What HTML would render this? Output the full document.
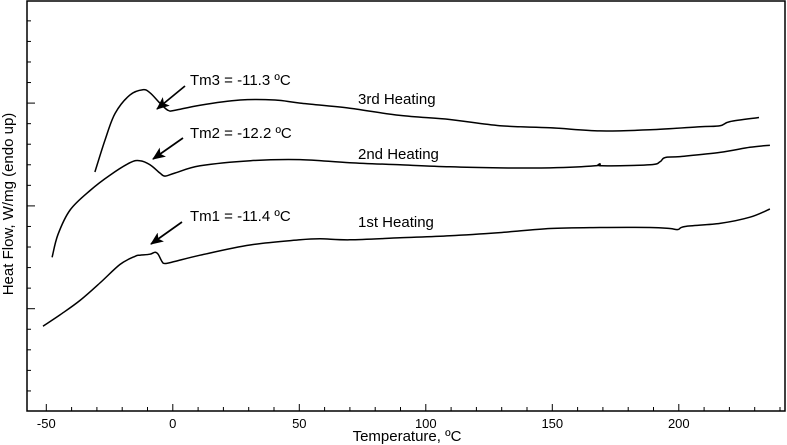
<!DOCTYPE html>
<html><head><meta charset="utf-8"><style>
body{margin:0;background:#fff}
svg{display:block;font-family:"Liberation Sans",sans-serif}
</style></head><body>
<svg id="chart" width="787" height="445">
<rect x="27" y="1" width="758" height="410" fill="none" stroke="#000" stroke-width="1.5"/>
<g id="ticks"></g>
<g id="series"></g>
<text x="407" y="441" font-size="15" text-anchor="middle">Temperature, ºC</text>
<text transform="translate(13,204) rotate(-90)" font-size="15" text-anchor="middle">Heat Flow, W/mg (endo up)</text>
<defs><marker id="ah" markerWidth="13" markerHeight="11" refX="12" refY="5.5" orient="auto" markerUnits="userSpaceOnUse"><path d="M0,0 L13,5.5 L0,11 L3,5.5 Z" fill="#000"/></marker></defs>
<line x1="185" y1="86" x2="157" y2="109" stroke="#000" stroke-width="1.7" marker-end="url(#ah)"/>
<text x="190" y="85" font-size="15">Tm3 = -11.3 ºC</text>
<line x1="183" y1="138" x2="153" y2="159" stroke="#000" stroke-width="1.7" marker-end="url(#ah)"/>
<text x="190" y="138" font-size="15">Tm2 = -12.2 ºC</text>
<line x1="182" y1="222" x2="151" y2="244" stroke="#000" stroke-width="1.7" marker-end="url(#ah)"/>
<text x="190" y="221" font-size="15">Tm1 = -11.4 ºC</text>
<text x="358" y="104" font-size="15">3rd Heating</text>
<text x="358" y="159" font-size="15">2nd Heating</text>
<text x="358" y="227" font-size="15">1st Heating</text>
</svg>
<script>
const xTicks=[-50,0,50,100,150,200];
const t3=[-30.8,-26.8,-22.8,-16.9,-11.8,-9.0,-5.1,-1.9,0.9,10.8,26.6,40.4,50.3,70.0,89.8,109.5,129.3,149.1,168.8,188.6,208.4,216.3,220.2,231.7];
const v3=[2.33,2.64,2.90,3.08,3.13,3.10,3.00,2.93,2.93,2.98,3.03,3.03,3.00,2.95,2.88,2.84,2.78,2.76,2.73,2.74,2.77,2.78,2.82,2.86];
const t2=[-47.7,-45.4,-40.6,-32.7,-24.8,-16.9,-13.0,-9.0,-5.1,-3.1,0.9,10.8,30.7,50.3,70.0,89.8,109.5,129.3,149.1,166.9,168.8,169.6,188.6,192.6,194.5,200.5,216.3,228.1,236.0];
const v2=[1.50,1.72,1.96,2.15,2.30,2.42,2.44,2.40,2.32,2.29,2.32,2.39,2.44,2.45,2.42,2.40,2.38,2.37,2.37,2.39,2.41,2.39,2.40,2.43,2.47,2.48,2.52,2.57,2.59];
const t1=[-51.3,-44.6,-36.7,-28.8,-20.9,-14.9,-13.0,-9.0,-7.0,-5.8,-4.3,-3.1,0.9,10.8,30.5,50.3,58.2,70.0,89.8,109.5,129.3,149.1,168.8,188.6,196.5,199.7,202.5,216.3,228.1,236.0];
const v1=[0.83,0.94,1.08,1.25,1.43,1.51,1.52,1.53,1.55,1.53,1.46,1.44,1.46,1.52,1.62,1.67,1.68,1.67,1.69,1.71,1.74,1.78,1.79,1.79,1.78,1.77,1.80,1.83,1.89,1.97];
const NS="http://www.w3.org/2000/svg";
const xs=t=>172.8+2.53*t;
const ys=v=>411.5-102.8*v;
const tg=document.getElementById('ticks');
function ln(x1,y1,x2,y2,name){const l=document.createElementNS(NS,'line');
l.setAttribute('x1',x1);l.setAttribute('y1',y1);l.setAttribute('x2',x2);l.setAttribute('y2',y2);
l.setAttribute('stroke','#000');l.setAttribute('stroke-width','1');


tg.appendChild(l);}
for(let t=-50;t<=240;t+=10){const maj=xTicks.includes(t);ln(xs(t),411,xs(t),maj?404:407,maj?'x-major-tick':'x-minor-tick');}
for(let i=1;i<20;i++){const y=411.5-20.56*i;const maj=i%5==0;ln(27,y,maj?35:31,y,maj?'y-major-tick':'y-minor-tick');}
xTicks.forEach(t=>{const tx=document.createElementNS(NS,'text');tx.setAttribute('x',xs(t));tx.setAttribute('y',428);
tx.setAttribute('font-size','13');tx.setAttribute('text-anchor','middle');tx.textContent=t;


tg.appendChild(tx);});
function smooth(P){let d='M'+P[0][0].toFixed(1)+','+P[0][1].toFixed(1);
for(let i=0;i<P.length-1;i++){const p0=P[Math.max(0,i-1)],p1=P[i],p2=P[i+1],p3=P[Math.min(P.length-1,i+2)];
const c1=[p1[0]+(p2[0]-p0[0])/6,p1[1]+(p2[1]-p0[1])/6],c2=[p2[0]-(p3[0]-p1[0])/6,p2[1]-(p3[1]-p1[1])/6];
d+=' C'+c1.map(n=>n.toFixed(1))+' '+c2.map(n=>n.toFixed(1))+' '+p2.map(n=>n.toFixed(1));}
return d;}
const sg=document.getElementById('series');
[[t1,v1,'first-heating-curve'],[t2,v2,'second-heating-curve'],[t3,v3,'third-heating-curve']].forEach(([t,v,n])=>{
const p=document.createElementNS(NS,'path');
p.setAttribute('d',smooth(t.map((tt,i)=>[xs(tt),ys(v[i])])));
p.setAttribute('fill','none');p.setAttribute('stroke','#000');p.setAttribute('stroke-width','1.5');p.setAttribute('stroke-linejoin','round');


sg.appendChild(p);});
</script>
</body></html>
